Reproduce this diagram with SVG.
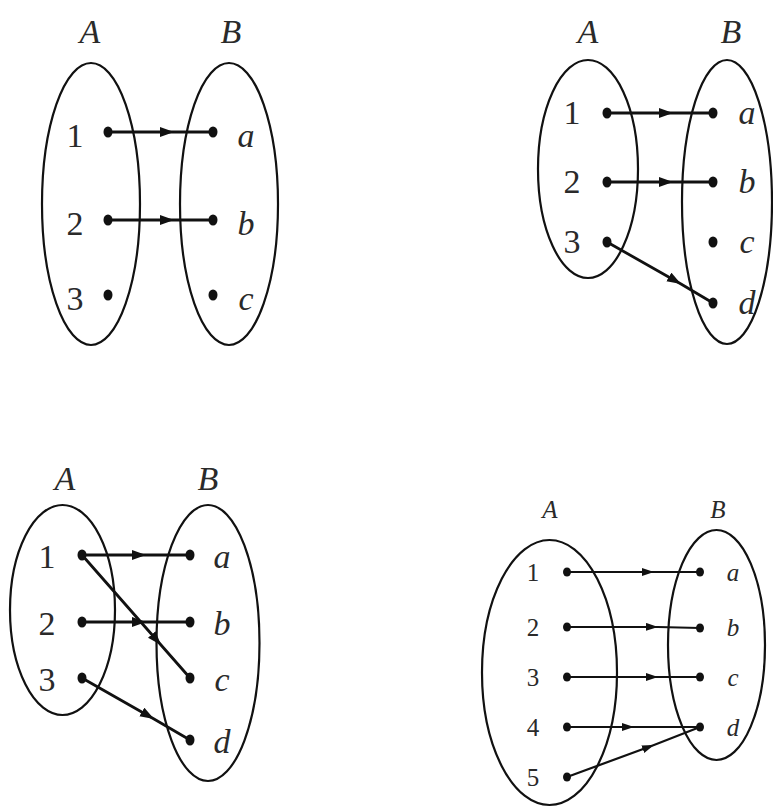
<svg xmlns="http://www.w3.org/2000/svg" width="773" height="808" viewBox="0 0 773 808">
<style>
.set{fill:none;stroke:#111;stroke-width:2.2}
.dot{fill:#111}
.lbl{font-family:"Liberation Serif",serif;font-style:italic;fill:#2a2a2a;text-anchor:middle}
.num{font-family:"Liberation Serif",serif;fill:#2a2a2a;text-anchor:middle}
.big{font-size:34px}
.sm{font-size:25px}
.arr{fill:none;stroke:#111;stroke-width:2.8;marker-mid:url(#ah)}
.arr4{fill:none;stroke:#111;stroke-width:2.2;marker-mid:url(#ahs)}
</style>
<defs>
<marker id="ah" markerUnits="userSpaceOnUse" markerWidth="16" markerHeight="12" refX="14" refY="5" orient="auto"><path d="M0,0 L14,5 L0,10 z" fill="#111"/></marker>
<marker id="ahs" markerUnits="userSpaceOnUse" markerWidth="14" markerHeight="10" refX="12" refY="4" orient="auto"><path d="M0,0 L12,4 L0,8 z" fill="#111"/></marker>
</defs>
<rect width="773" height="808" fill="#fff"/>

<!-- Diagram 1 -->
<g id="d1-setA">
<text class="lbl big" x="90" y="43">A</text>
<ellipse class="set" cx="91" cy="204" rx="49" ry="141"/>
<text class="num big" x="75" y="147">1</text><ellipse class="dot" cx="108" cy="132" rx="4.5" ry="5.5"/>
<text class="num big" x="75" y="235">2</text><ellipse class="dot" cx="108" cy="220" rx="4.5" ry="5.5"/>
<text class="num big" x="75" y="310">3</text><ellipse class="dot" cx="108" cy="295" rx="4.5" ry="5.5"/>
</g>
<g id="d1-setB">
<text class="lbl big" x="231" y="43">B</text>
<ellipse class="set" cx="229" cy="204" rx="49" ry="141"/>
<ellipse class="dot" cx="213" cy="132" rx="4.5" ry="5.5"/><text class="lbl big" x="246" y="147">a</text>
<ellipse class="dot" cx="213" cy="220" rx="4.5" ry="5.5"/><text class="lbl big" x="246" y="235">b</text>
<ellipse class="dot" cx="213" cy="295" rx="4.5" ry="5.5"/><text class="lbl big" x="246" y="310">c</text>
</g>

<!-- Diagram 2 -->
<g id="d2-setA">
<text class="lbl big" x="588" y="43">A</text>
<ellipse class="set" cx="588" cy="169" rx="50" ry="109"/>
<text class="num big" x="572" y="124">1</text><ellipse class="dot" cx="607" cy="113" rx="4.5" ry="5.5"/>
<text class="num big" x="572" y="193">2</text><ellipse class="dot" cx="607" cy="182" rx="4.5" ry="5.5"/>
<text class="num big" x="572" y="253">3</text><ellipse class="dot" cx="607" cy="242" rx="4.5" ry="5.5"/>
</g>
<g id="d2-setB">
<text class="lbl big" x="731" y="43">B</text>
<ellipse class="set" cx="727" cy="202" rx="45" ry="142"/>
<ellipse class="dot" cx="713" cy="113" rx="4.5" ry="5.5"/><text class="lbl big" x="747" y="124">a</text>
<ellipse class="dot" cx="713" cy="182" rx="4.5" ry="5.5"/><text class="lbl big" x="747" y="193">b</text>
<ellipse class="dot" cx="713" cy="242" rx="4.5" ry="5.5"/><text class="lbl big" x="747" y="253">c</text>
<ellipse class="dot" cx="713" cy="303" rx="4.5" ry="5.5"/><text class="lbl big" x="747" y="314">d</text>
</g>

<!-- Diagram 3 -->
<g id="d3-setA">
<text class="lbl big" x="65" y="490">A</text>
<ellipse class="set" cx="62.5" cy="610" rx="52.5" ry="105"/>
<text class="num big" x="47" y="568">1</text><ellipse class="dot" cx="82" cy="555" rx="4.5" ry="5.5"/>
<text class="num big" x="47" y="635">2</text><ellipse class="dot" cx="82" cy="622" rx="4.5" ry="5.5"/>
<text class="num big" x="47" y="691">3</text><ellipse class="dot" cx="82" cy="678" rx="4.5" ry="5.5"/>
</g>
<g id="d3-setB">
<text class="lbl big" x="208" y="490">B</text>
<ellipse class="set" cx="208" cy="643" rx="51.5" ry="138"/>
<ellipse class="dot" cx="190" cy="555" rx="4.5" ry="5.5"/><text class="lbl big" x="222" y="568">a</text>
<ellipse class="dot" cx="190" cy="622" rx="4.5" ry="5.5"/><text class="lbl big" x="222" y="635">b</text>
<ellipse class="dot" cx="190" cy="678" rx="4.5" ry="5.5"/><text class="lbl big" x="222" y="691">c</text>
<ellipse class="dot" cx="190" cy="740" rx="4.5" ry="5.5"/><text class="lbl big" x="222" y="753">d</text>
</g>

<!-- Diagram 4 -->
<g id="d4-setA">
<text class="lbl sm" x="550" y="518">A</text>
<ellipse class="set" cx="549.5" cy="672.5" rx="67.5" ry="132.5"/>
<text class="num sm" x="533" y="581">1</text><ellipse class="dot" cx="567" cy="572" rx="4" ry="4.5"/>
<text class="num sm" x="533" y="636">2</text><ellipse class="dot" cx="567" cy="627" rx="4" ry="4.5"/>
<text class="num sm" x="533" y="686">3</text><ellipse class="dot" cx="567" cy="677" rx="4" ry="4.5"/>
<text class="num sm" x="533" y="736">4</text><ellipse class="dot" cx="567" cy="727" rx="4" ry="4.5"/>
<text class="num sm" x="533" y="786">5</text><ellipse class="dot" cx="567" cy="777" rx="4" ry="4.5"/>
</g>
<g id="d4-setB">
<text class="lbl sm" x="718" y="518">B</text>
<ellipse class="set" cx="716.5" cy="645" rx="48.5" ry="115"/>
<ellipse class="dot" cx="700" cy="572" rx="4" ry="4.5"/><text class="lbl sm" x="733" y="581">a</text>
<ellipse class="dot" cx="700" cy="628" rx="4" ry="4.5"/><text class="lbl sm" x="733" y="636">b</text>
<ellipse class="dot" cx="700" cy="677" rx="4" ry="4.5"/><text class="lbl sm" x="733" y="686">c</text>
<ellipse class="dot" cx="700" cy="727" rx="4" ry="4.5"/><text class="lbl sm" x="733" y="736">d</text>
</g>

<g id="connectors">
<path class="arr" d="M108 132 L174 132 L213 132"/>
<path class="arr" d="M108 220 L174 220 L213 220"/>
<path class="arr" d="M607 113 L673 113 L713 113"/>
<path class="arr" d="M607 182 L673 182 L713 182"/>
<path class="arr" d="M607 242 L681 284 L713 303"/>
<path class="arr" d="M82 555 L146 555 L190 555"/>
<path class="arr" d="M82 622 L146 622 L190 622"/>
<path class="arr" d="M82 555 L161 645 L190 678"/>
<path class="arr" d="M82 678 L154 719 L190 740"/>
<path class="arr4" d="M567 572 L654 572 L700 572"/>
<path class="arr4" d="M567 627 L658 627 L700 628"/>
<path class="arr4" d="M567 677 L658 677 L700 677"/>
<path class="arr4" d="M567 727 L634 727 L700 727"/>
<path class="arr4" d="M567 777 L654 745 L700 727"/>
</g>
</svg>
